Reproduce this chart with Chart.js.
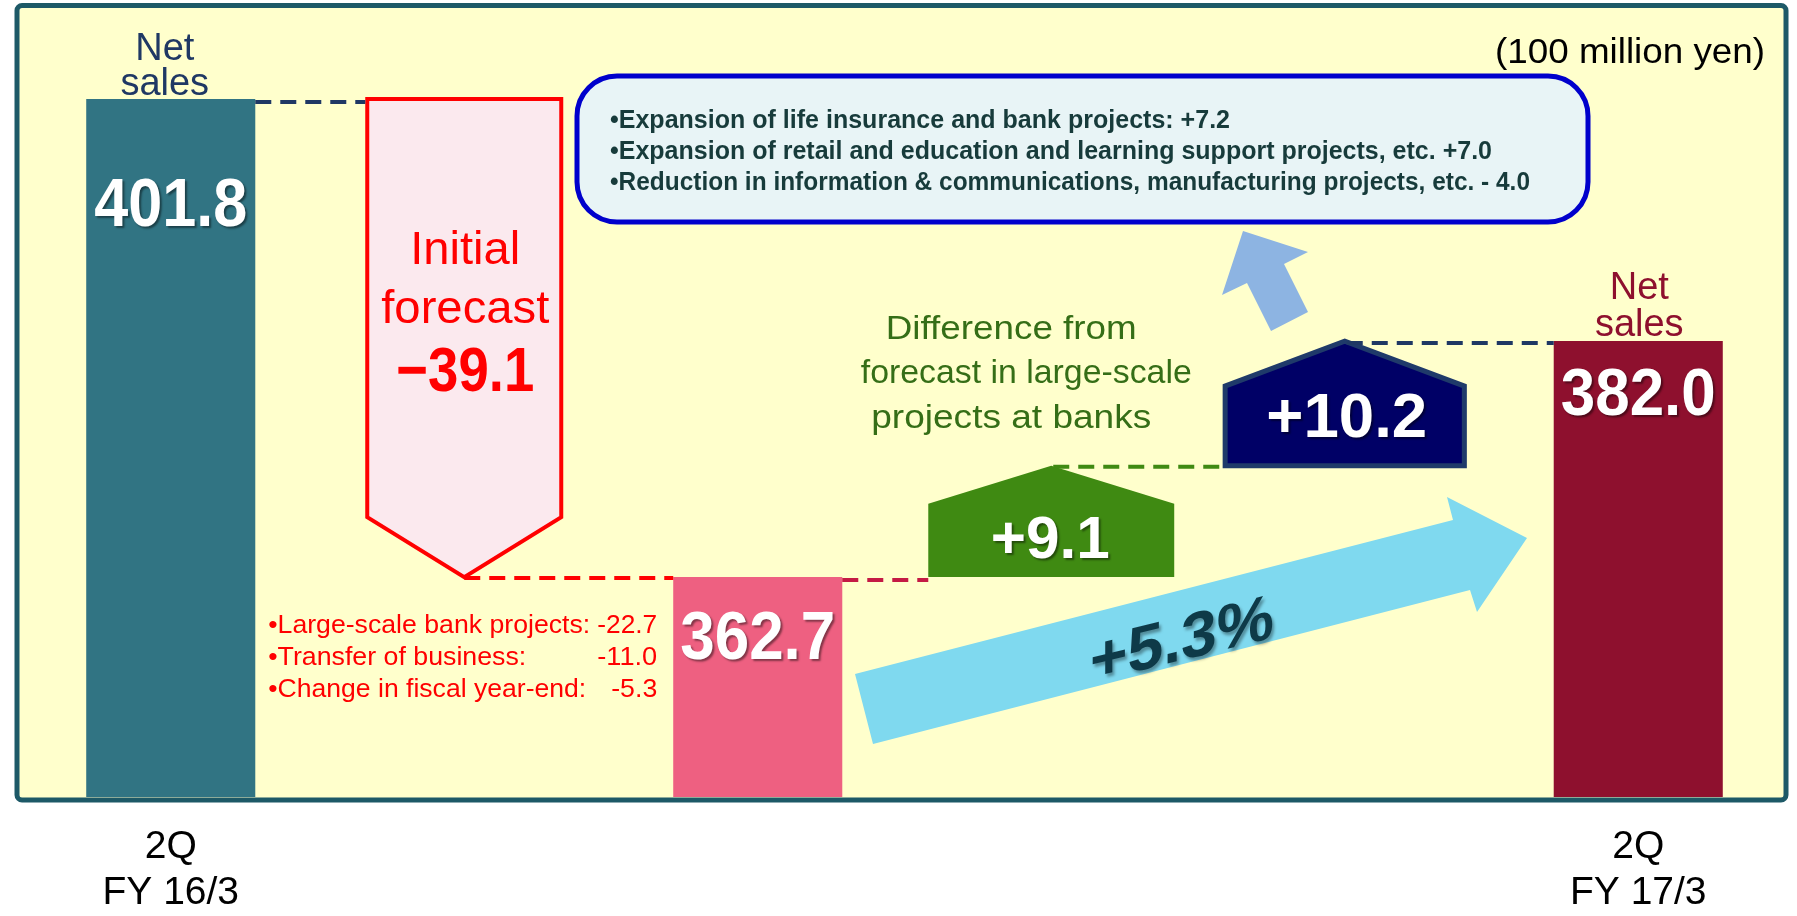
<!DOCTYPE html>
<html>
<head>
<meta charset="utf-8">
<script src="https://cdn.jsdelivr.net/npm/chart.js@4.4.1/dist/chart.umd.min.js"></script>
<style>
html,body{margin:0;padding:0;background:#ffffff;overflow:hidden;}
#box{width:1797px;height:916px;position:relative;}
canvas{display:block;}
</style>
</head>
<body>
<div id="box"><canvas id="chart" width="1797" height="916"></canvas></div>
<script>
// ---------------- data ----------------
const categories = [['2Q', 'FY 16/3'], '', '', '', '', ['2Q', 'FY 17/3']];
const netSalesLabel = 'Net sales';
const netSales = [401.8, null, 362.7, null, null, 382.0];
const netSalesColors = ['#317483', 'rgba(0,0,0,0)', '#EE6081', 'rgba(0,0,0,0)', 'rgba(0,0,0,0)', '#8E102E'];
const changeNames = ['Initial forecast', 'Difference from forecast in large-scale projects at banks', 'Other changes'];
const changeValues = [-39.1, 9.1, 10.2];
const changeSlots = [1, 3, 4];
const forecastItems = ['Large-scale bank projects:', 'Transfer of business:', 'Change in fiscal year-end:'];
const forecastItemValues = ['-22.7', '-11.0', '-5.3'];
const growthItems = ['Expansion of life insurance and bank projects:', 'Expansion of retail and education and learning support projects, etc.', 'Reduction in information & communications, manufacturing projects, etc.'];
const growthItemValues = ['+7.2', '+7.0', '- 4.0'];
const growthRate = '+5.3%';
const unitText = '(100 million yen)';
const yAxisMin = 344.72;
const yAxisMax = 409.40;

// floating bars for the changes (start/end of each step)
const floating = changeValues.map(() => categories.map(() => null));
let running = netSales[0];
changeValues.forEach((v, k) => {
  const end = Math.round((running + v) * 10) / 10;
  floating[k][changeSlots[k]] = [Math.min(running, end), Math.max(running, end)];
  running = end;
});

const FONT = '"Liberation Sans", Arial, Helvetica, sans-serif';
const fmt = v => v.toFixed(1);
const fmtSigned = v => (v < 0 ? '\u2212' : '+') + Math.abs(v).toFixed(1);

function drawText(ctx, str, x, y, o) {
  ctx.save();
  ctx.font = (o.weight || 'normal') + ' ' + o.size + 'px ' + FONT;
  ctx.fillStyle = o.color || '#000';
  ctx.textBaseline = 'alphabetic';
  ctx.textAlign = 'left';
  const m = ctx.measureText(str).width;
  const sx = o.w ? o.w / m : (o.sx || 1);
  const dw = m * sx;
  const align = o.align || 'center';
  let left = x;
  if (align === 'center') left = x - dw / 2;
  else if (align === 'right') left = x - dw;
  if (o.shadow) {
    ctx.shadowColor = o.shadow;
    ctx.shadowOffsetX = 2; ctx.shadowOffsetY = 2; ctx.shadowBlur = 2;
  }
  ctx.translate(left, y);
  ctx.scale(sx, 1);
  ctx.fillText(str, 0, 0);
  ctx.restore();
}

function roundRect(ctx, x1, y1, x2, y2, r) {
  ctx.beginPath();
  ctx.moveTo(x1 + r, y1);
  ctx.lineTo(x2 - r, y1);
  ctx.arcTo(x2, y1, x2, y1 + r, r);
  ctx.lineTo(x2, y2 - r);
  ctx.arcTo(x2, y2, x2 - r, y2, r);
  ctx.lineTo(x1 + r, y2);
  ctx.arcTo(x1, y2, x1, y2 - r, r);
  ctx.lineTo(x1, y1 + r);
  ctx.arcTo(x1, y1, x1 + r, y1, r);
  ctx.closePath();
}

function dashed(ctx, x1, x2, y, color) {
  ctx.save();
  ctx.strokeStyle = color;
  ctx.lineWidth = 4;
  ctx.setLineDash([16, 9]);
  ctx.beginPath();
  ctx.moveTo(x1, y);
  ctx.lineTo(x2, y);
  ctx.stroke();
  ctx.restore();
}

function poly(ctx, pts, color) {
  ctx.save();
  ctx.beginPath();
  pts.forEach((p, i) => i ? ctx.lineTo(p[0], p[1]) : ctx.moveTo(p[0], p[1]));
  ctx.closePath();
  ctx.fillStyle = color;
  ctx.fill();
  ctx.restore();
}

const props = el => el.getProps(['x', 'y', 'base', 'width'], true);

const deco = {
  id: 'deco',
  beforeDraw(chart) {
    const ctx = chart.ctx;
    ctx.save();
    ctx.fillStyle = '#ffffff';
    ctx.fillRect(0, 0, chart.width, chart.height);
    roundRect(ctx, 17, 5.5, 1786, 800, 5);
    ctx.fillStyle = '#FFFFCC';
    ctx.fill();
    ctx.restore();
  },
  beforeDatasetsDraw(chart) {
    const ctx = chart.ctx;
    // growth arrow
    poly(ctx, [[873, 744], [855, 674], [1453, 520], [1447, 497], [1527, 538], [1477, 612], [1470, 590]], '#7FD9EF');
    // small arrow to callout
    poly(ctx, [[1243, 231], [1308, 252], [1284, 264], [1308, 312], [1271, 331], [1247, 283], [1222, 295]], '#8DB4E2');
  },
  beforeDatasetDraw(chart, args) {
    const ds = chart.data.datasets[args.index];
    if (!ds.shape) return;
    const ctx = chart.ctx;
    args.meta.data.forEach((el, i) => {
      if (ds.data[i] == null) return;
      const p = props(el);
      const top = Math.min(p.y, p.base), bot = Math.max(p.y, p.base);
      const l = p.x - p.width / 2, r = p.x + p.width / 2;
      ctx.save();
      ctx.beginPath();
      if (ds.shape === 'down') {
        ctx.moveTo(l, top); ctx.lineTo(r, top); ctx.lineTo(r, bot - ds.point);
        ctx.lineTo(p.x, bot); ctx.lineTo(l, bot - ds.point);
      } else {
        ctx.moveTo(l, bot); ctx.lineTo(l, top + ds.point); ctx.lineTo(p.x, top);
        ctx.lineTo(r, top + ds.point); ctx.lineTo(r, bot);
      }
      ctx.closePath();
      ctx.fillStyle = ds.backgroundColor;
      ctx.fill();
      if (ds.borderWidth) {
        ctx.lineWidth = ds.borderWidth;
        ctx.strokeStyle = ds.borderColor;
        ctx.lineJoin = 'miter';
        ctx.stroke();
      }
      ctx.restore();
    });
    return false;
  },
  afterDatasetsDraw(chart) {
    const ctx = chart.ctx;
    const m0 = chart.getDatasetMeta(0).data;
    const bar1 = props(m0[0]), pink = props(m0[2]), bar3 = props(m0[5]);
    const arrow = props(chart.getDatasetMeta(1).data[changeSlots[0]]);
    const green = props(chart.getDatasetMeta(2).data[changeSlots[1]]);
    const navy = props(chart.getDatasetMeta(3).data[changeSlots[2]]);
    const top = p => Math.min(p.y, p.base), bot = p => Math.max(p.y, p.base);

    // connectors
    dashed(ctx, bar1.x + bar1.width / 2, arrow.x - arrow.width / 2 - 2, bar1.y + 3, '#1F3864');
    dashed(ctx, arrow.x, pink.x - pink.width / 2, pink.y + 1, '#FF0000');
    dashed(ctx, pink.x + pink.width / 2, green.x - green.width / 2, pink.y + 3, '#C41A44');
    dashed(ctx, green.x + 2, navy.x - navy.width / 2 - 2, top(green) + 1, '#3F8A12');
    dashed(ctx, navy.x + 2, bar3.x - bar3.width / 2, bar3.y + 2, '#1F3864');

    // frame
    ctx.save();
    roundRect(ctx, 17, 5.5, 1786, 800, 5);
    ctx.lineWidth = 5;
    ctx.strokeStyle = '#1D5967';
    ctx.stroke();
    ctx.restore();

    // callout
    ctx.save();
    roundRect(ctx, 577, 76, 1588, 222, 40);
    ctx.fillStyle = '#E8F4F6';
    ctx.fill();
    ctx.lineWidth = 5;
    ctx.strokeStyle = '#0000CC';
    ctx.stroke();
    ctx.restore();
    const calloutBase = [128, 159, 190];
    const calloutW = [620, 882, 920];
    growthItems.forEach((t, i) => {
      drawText(ctx, '\u2022' + t + ' ' + growthItemValues[i], 610, calloutBase[i],
        {size: 25, weight: 'bold', color: '#173B3B', align: 'left', w: calloutW[i]});
    });

    drawText(ctx, unitText, 1765, 63, {size: 35, color: '#000', align: 'right', w: 270});

    // net sales labels
    drawText(ctx, 'Net', bar1.x - 6, bar1.y - 39, {size: 38, color: '#1F3864'});
    drawText(ctx, 'sales', bar1.x - 6, bar1.y - 4, {size: 38, color: '#1F3864'});
    drawText(ctx, fmt(netSales[0]), bar1.x, bar1.y + 127, {size: 68, weight: 'bold', color: '#fff', w: 153, shadow: 'rgba(0,0,0,0.45)'});
    drawText(ctx, fmt(netSales[2]), pink.x, pink.y + 82, {size: 68, weight: 'bold', color: '#fff', w: 155, shadow: 'rgba(0,0,0,0.45)'});
    drawText(ctx, 'Net', bar3.x + 1, bar3.y - 42, {size: 38, color: '#8E102E'});
    drawText(ctx, 'sales', bar3.x + 1, bar3.y - 5, {size: 38, color: '#8E102E'});
    drawText(ctx, fmt(netSales[5]), bar3.x, bar3.y + 74, {size: 66, weight: 'bold', color: '#fff', w: 155, shadow: 'rgba(0,0,0,0.45)'});

    // initial forecast arrow labels
    const at = top(arrow);
    drawText(ctx, 'Initial', arrow.x + 1, at + 165, {size: 47, color: '#FF0000', w: 110});
    drawText(ctx, 'forecast', arrow.x + 1, at + 224, {size: 47, color: '#FF0000', w: 168});
    drawText(ctx, fmtSigned(changeValues[0]), arrow.x + 1, at + 292, {size: 63, weight: 'bold', color: '#FF0000', w: 138});

    // breakdown list
    const pl = pink.x - pink.width / 2;
    const listW = [322, 258, 318], valW = [60, 60, 46];
    forecastItems.forEach((t, i) => {
      const yb = pink.y + 56 + 32 * i;
      drawText(ctx, '\u2022' + t, pl - 405, yb, {size: 25, color: '#FF0000', align: 'left', w: listW[i]});
      drawText(ctx, forecastItemValues[i], pl - 16, yb, {size: 25, color: '#FF0000', align: 'right', w: valW[i]});
    });

    // green step
    drawText(ctx, fmtSigned(changeValues[1]), green.x - 1, bot(green) - 19, {size: 60, weight: 'bold', color: '#fff', w: 119, shadow: 'rgba(0,0,0,0.45)'});
    const gt = top(green);
    drawText(ctx, 'Difference from', green.x - 40, gt - 127, {size: 34, color: '#356E17', w: 251});
    drawText(ctx, 'forecast in large-scale', green.x - 25, gt - 83, {size: 34, color: '#356E17', w: 331});
    drawText(ctx, 'projects at banks', green.x - 40, gt - 38, {size: 34, color: '#356E17', w: 280});

    // navy step
    drawText(ctx, fmtSigned(changeValues[2]), navy.x + 2, bot(navy) - 29, {size: 63, weight: 'bold', color: '#fff', w: 161, shadow: 'rgba(0,0,0,0.45)'});

    // growth rate on the arrow (slanted)
    ctx.save();
    ctx.font = 'bold 64px ' + FONT;
    const mw = ctx.measureText(growthRate).width;
    const sx = 184 / mw;
    ctx.transform(sx, -0.246 * sx, 0, 1, 1182, 660);
    ctx.fillStyle = '#0E3A48';
    ctx.shadowColor = 'rgba(0,0,0,0.35)';
    ctx.shadowOffsetX = 2; ctx.shadowOffsetY = 3; ctx.shadowBlur = 3;
    ctx.textBaseline = 'alphabetic';
    ctx.fillText(growthRate, -mw / 2, 0);
    ctx.restore();
  }
};

Chart.defaults.font.family = FONT;

new Chart(document.getElementById('chart'), {
  type: 'bar',
  data: {
    labels: categories,
    datasets: [
      {label: netSalesLabel, data: netSales, backgroundColor: netSalesColors, borderWidth: 0,
       barPercentage: 0.576, categoryPercentage: 1, grouped: false},
      {label: changeNames[0], data: floating[0], backgroundColor: '#FBE9EE', borderColor: '#FF0000', borderWidth: 4,
       barPercentage: 0.661, categoryPercentage: 1, grouped: false, shape: 'down', point: 60},
      {label: changeNames[1], data: floating[1], backgroundColor: '#3F8A12', borderColor: '#3F8A12', borderWidth: 0,
       barPercentage: 0.838, categoryPercentage: 1, grouped: false, shape: 'up', point: 38},
      {label: changeNames[2], data: floating[2], backgroundColor: '#000066', borderColor: '#1F3A6A', borderWidth: 5,
       barPercentage: 0.815, categoryPercentage: 1, grouped: false, shape: 'up', point: 45}
    ]
  },
  options: {
    responsive: false,
    animation: false,
    devicePixelRatio: 1,
    layout: {padding: {left: 24, right: 12, top: 6, bottom: -27}},
    plugins: {legend: {display: false}, tooltip: {enabled: false}},
    scales: {
      x: {
        offset: true,
        grid: {display: false, drawTicks: false},
        border: {display: false},
        ticks: {color: '#000', autoSkip: false, maxRotation: 0, minRotation: 0, padding: 27,
                font: {family: FONT, size: 39, lineHeight: 1.18}}
      },
      y: {display: false, min: yAxisMin, max: yAxisMax}
    }
  },
  plugins: [deco]
});
</script>
</body>
</html>
